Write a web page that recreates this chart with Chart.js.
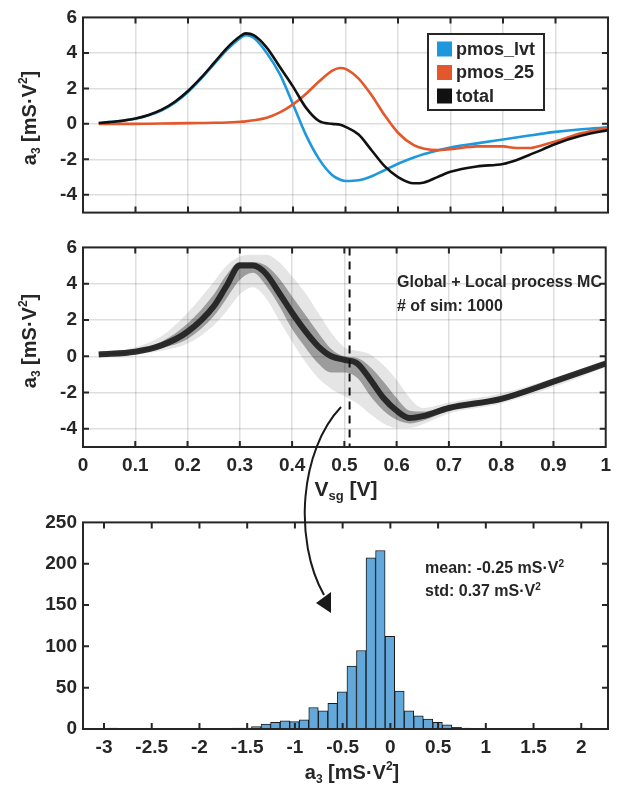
<!DOCTYPE html>
<html>
<head>
<meta charset="utf-8">
<script src="https://cdn.jsdelivr.net/npm/chart.js@4.4.1/dist/chart.umd.min.js"></script>
<style>
    html, body { margin: 0; padding: 0; background: #fff; }
    #wrap { position: relative; width: 618px; height: 790px; overflow: hidden; }
    canvas { position: absolute; left: 0; }
    #arrow { position: absolute; left: 0; top: 0; }
</style>
</head>
<body>
<div id="wrap">
    <canvas id="topChart" width="618" height="230" style="top:0px"></canvas>
    <canvas id="mcChart" width="618" height="275" style="top:230px"></canvas>
    <canvas id="histChart" width="618" height="285" style="top:505px"></canvas>
    <svg id="arrow" width="618" height="790">
        <path d="M341,407 C300,450 293,540 324,595" fill="none" stroke="#1a1a1a" stroke-width="2"/>
        <polygon points="316,603 331,592 331,613" fill="#1a1a1a"/>
    </svg>
</div>
<script>
// top panel: a3 vs Vsg
const VSG = [0.03, 0.05, 0.075, 0.1, 0.125, 0.15, 0.175, 0.2, 0.225, 0.25, 0.275, 0.3, 0.31, 0.325, 0.35, 0.375, 0.4, 0.425, 0.45, 0.475, 0.49, 0.5, 0.525, 0.55, 0.575, 0.6, 0.63, 0.65, 0.675, 0.7, 0.75, 0.8, 0.825, 0.85, 0.875, 0.9, 0.95, 1.0];
const PMOS_LVT = [0.05, 0.1, 0.17, 0.29, 0.48, 0.77, 1.2, 1.8, 2.55, 3.38, 4.2, 4.85, 5.0, 4.85, 4.0, 2.8, 1.1, -0.65, -2.0, -2.9, -3.15, -3.22, -3.18, -2.95, -2.6, -2.25, -1.9, -1.7, -1.5, -1.33, -1.1, -0.88, -0.77, -0.66, -0.55, -0.45, -0.3, -0.2];
const PMOS_25 = [0, 0, 0, 0, 0.01, 0.02, 0.03, 0.04, 0.05, 0.06, 0.08, 0.12, 0.14, 0.2, 0.35, 0.65, 1.1, 1.7, 2.4, 3.0, 3.15, 3.1, 2.55, 1.6, 0.47, -0.5, -1.2, -1.4, -1.48, -1.43, -1.27, -1.27, -1.36, -1.36, -1.2, -1.0, -0.52, -0.22];
const TOTAL = [0.05, 0.1, 0.18, 0.3, 0.5, 0.8, 1.25, 1.85, 2.6, 3.45, 4.3, 4.95, 5.1, 5.0, 4.3, 3.2, 2.1, 0.9, 0.15, 0.0, -0.05, -0.17, -0.6, -1.5, -2.4, -3.0, -3.35, -3.3, -3.0, -2.7, -2.4, -2.26, -2.05, -1.75, -1.45, -1.13, -0.66, -0.35];

// middle panel: Monte Carlo spread (core trace + inner/outer envelopes)
const MC_X = [0.03, 0.1, 0.15, 0.2, 0.25, 0.275, 0.3, 0.325, 0.35, 0.375, 0.4, 0.425, 0.45, 0.475, 0.5, 0.525, 0.55, 0.575, 0.6, 0.625, 0.65, 0.7, 0.8, 0.9, 1.0];
const MC_CORE = [0.1, 0.25, 0.6, 1.35, 2.75, 3.9, 5.0, 5.0, 4.55, 3.5, 2.4, 1.4, 0.55, 0.0, -0.2, -0.4, -1.3, -2.3, -3.0, -3.4, -3.3, -2.85, -2.35, -1.4, -0.4];
const MC_INNER_HI = [0.15, 0.35, 0.8, 1.8, 3.4, 4.5, 5.2, 5.2, 5.0, 4.3, 3.3, 2.3, 1.3, 0.4, 0.0, -0.1, -0.6, -1.4, -2.3, -3.0, -3.05, -2.7, -2.2, -1.3, -0.3];
const MC_INNER_LO = [0.05, 0.18, 0.45, 0.95, 2.2, 3.2, 4.2, 4.6, 3.9, 2.8, 1.5, 0.5, -0.4, -0.9, -0.9, -1.2, -2.2, -3.0, -3.5, -3.7, -3.55, -3.0, -2.5, -1.55, -0.5];
const MC_OUTER_HI = [0.2, 0.5, 1.1, 2.4, 4.1, 5.0, 5.5, 5.6, 5.6, 5.2, 4.4, 3.5, 2.4, 1.3, 0.5, 0.3, 0.1, -0.5, -1.3, -2.3, -2.85, -2.55, -2.05, -1.2, -0.2];
const MC_OUTER_LO = [0.0, 0.1, 0.3, 0.7, 1.7, 2.5, 3.4, 3.8, 3.2, 2.0, 0.8, -0.3, -1.2, -1.8, -2.2, -2.6, -3.2, -3.7, -3.95, -3.95, -3.75, -3.15, -2.6, -1.7, -0.6];
const MARKER_VSG = 0.51;

// bottom panel: histogram of a3 at the marked Vsg
const HIST_BINS = [-2.905, -1.605, -1.505, -1.405, -1.305, -1.205, -1.105, -1.005, -0.905, -0.805, -0.705, -0.605, -0.505, -0.405, -0.305, -0.205, -0.105, -0.005, 0.095, 0.195, 0.295, 0.395, 0.495, 0.595, 0.695, 0.795, 1.995];
const HIST_COUNTS = [1, 1, 1, 3, 6, 8, 10, 9, 11, 26, 22, 31, 45, 76, 95, 207, 216, 112, 46, 22, 16, 12, 8, 5, 2, 1, 1];

const VSG_TICKS = [0, 0.1, 0.2, 0.3, 0.4, 0.5, 0.6, 0.7, 0.8, 0.9, 1];
const A3_TICKS = [-4, -2, 0, 2, 4, 6];
const HIST_X_TICKS = [-3, -2.5, -2, -1.5, -1, -0.5, 0, 0.5, 1, 1.5, 2];
const HIST_Y_TICKS = [0, 50, 100, 150, 200, 250];

const FONT = '"Liberation Sans", Arial, sans-serif';
const INK = '#262626';
const BLUE = '#1e98dd';
const ORANGE = '#e4572a';
const BLACK = '#111111';

Chart.defaults.font.family = FONT;
Chart.defaults.font.weight = 'bold';
Chart.defaults.color = INK;

function toXY(xs, ys) {
    return xs.map((x, i) => ({ x: x, y: ys[i] }));
}

// text with _{sub} and ^{sup} parts
function drawRich(ctx, text, x, y, size, align, rotate) {
    const parts = [];
    const re = /([_^])\{([^}]*)\}/g;
    let last = 0, m;
    while ((m = re.exec(text)) !== null) {
        if (m.index > last) parts.push({ t: text.slice(last, m.index) });
        parts.push({ t: m[2], sub: m[1] === '_', sup: m[1] === '^' });
        last = re.lastIndex;
    }
    if (last < text.length) parts.push({ t: text.slice(last) });

    const small = Math.round(size * 0.6);
    ctx.save();
    ctx.translate(x, y);
    if (rotate) ctx.rotate(rotate);
    ctx.fillStyle = INK;
    ctx.textBaseline = 'middle';
    ctx.textAlign = 'left';
    const widths = parts.map(p => {
        ctx.font = `bold ${(p.sub || p.sup) ? small : size}px ${FONT}`;
        return ctx.measureText(p.t).width;
    });
    const total = widths.reduce((a, b) => a + b, 0);
    let cx = align === 'center' ? -total / 2 : 0;
    parts.forEach((p, i) => {
        ctx.font = `bold ${(p.sub || p.sup) ? small : size}px ${FONT}`;
        const dy = p.sub ? size * 0.32 : (p.sup ? -size * 0.3 : 0);
        ctx.fillText(p.t, cx, dy);
        cx += widths[i];
    });
    ctx.restore();
}

// MATLAB-like box, inward ticks, texts and legend
const matlabBox = {
    id: 'matlabBox',
    afterDraw(chart, args, opts) {
        const ctx = chart.ctx;
        const a = chart.chartArea;
        const xs = chart.scales.x, ys = chart.scales.y;
        const tl = 6;
        ctx.save();
        ctx.strokeStyle = INK;
        ctx.lineWidth = 2;
        ctx.beginPath();
        xs.ticks.forEach(t => {
            const px = xs.getPixelForValue(t.value);
            if (px <= a.left + 1 || px >= a.right - 1) return;
            ctx.moveTo(px, a.bottom); ctx.lineTo(px, a.bottom - tl);
            ctx.moveTo(px, a.top); ctx.lineTo(px, a.top + tl);
        });
        ys.ticks.forEach(t => {
            const py = ys.getPixelForValue(t.value);
            if (py <= a.top + 1 || py >= a.bottom - 1) return;
            ctx.moveTo(a.left, py); ctx.lineTo(a.left + tl, py);
            ctx.moveTo(a.right, py); ctx.lineTo(a.right - tl, py);
        });
        ctx.stroke();
        ctx.strokeRect(a.left, a.top, a.right - a.left, a.bottom - a.top);
        ctx.restore();

        (opts.texts || []).forEach(t => {
            drawRich(ctx, t.text, t.x, t.y, t.size, t.align, t.rotate);
        });

        if (opts.legend) {
            const L = opts.legend;
            ctx.save();
            ctx.fillStyle = '#fff';
            ctx.fillRect(L.x, L.y, L.w, L.h);
            ctx.strokeStyle = INK;
            ctx.lineWidth = 2;
            ctx.strokeRect(L.x, L.y, L.w, L.h);
            ctx.font = `bold ${L.size}px ${FONT}`;
            ctx.textBaseline = 'middle';
            ctx.textAlign = 'left';
            chart.data.datasets.forEach((ds, i) => {
                const cy = L.y + L.first + i * L.row;
                ctx.fillStyle = ds.borderColor;
                ctx.fillRect(L.x + 9, cy - 7.5, 15, 15);
                ctx.fillStyle = INK;
                ctx.fillText(ds.label, L.x + 28, cy + 1);
            });
            ctx.restore();
        }
    }
};

const GRID = { color: 'rgba(0,0,0,0.13)', lineWidth: 1.5, drawTicks: false };
const TICK_FONT = { size: 19, weight: 'bold' };

function xAxis(ticks, min, max, showLabels, height, grid) {
    return {
        type: 'linear', min: min, max: max, offset: false,
        afterBuildTicks: s => { s.ticks = ticks.map(v => ({ value: v })); },
        afterFit: s => { s.height = height; },
        grid: grid ? GRID : { display: false, drawTicks: false },
        border: { display: false },
        ticks: { display: showLabels, font: TICK_FONT, padding: 7, maxRotation: 0, autoSkip: false, callback: v => String(v) }
    };
}

function yAxis(ticks, min, max, grid) {
    return {
        type: 'linear', min: min, max: max,
        afterBuildTicks: s => { s.ticks = ticks.map(v => ({ value: v })); },
        afterFit: s => { s.width = 83; },
        grid: grid ? GRID : { display: false, drawTicks: false },
        border: { display: false },
        ticks: { font: TICK_FONT, padding: 6, callback: v => String(v) }
    };
}

const BASE = {
    responsive: false,
    animation: false,
    devicePixelRatio: 1,
    events: [],
    plugins: { legend: { display: false }, tooltip: { enabled: false } }
};

function lineSet(label, ys, color, order) {
    return {
        label: label, data: toXY(VSG, ys), borderColor: color, backgroundColor: color,
        borderWidth: 2.6, pointRadius: 0, cubicInterpolationMode: 'monotone', order: order
    };
}

new Chart(document.getElementById('topChart'), {
    type: 'line',
    data: {
        datasets: [
            lineSet('pmos_lvt', PMOS_LVT, BLUE, 3),
            lineSet('pmos_25', PMOS_25, ORANGE, 2),
            lineSet('total', TOTAL, BLACK, 1)
        ]
    },
    plugins: [matlabBox],
    options: {
        ...BASE,
        layout: { padding: { left: 0, right: 10, top: 13, bottom: 0 } },
        scales: {
            x: xAxis(VSG_TICKS, 0, 1, false, 7, true),
            y: yAxis(A3_TICKS, -5, 6, true)
        },
        plugins: {
            ...BASE.plugins,
            matlabBox: {
                texts: [{ text: 'a_{3} [mS·V^{2}]', x: 30, y: 118, size: 20, align: 'center', rotate: -Math.PI / 2 }],
                legend: { x: 428, y: 34, w: 116, h: 76, size: 18, first: 15, row: 23.5 }
            }
        }
    }
});

function band(ys, fill, color, order) {
    return {
        data: toXY(MC_X, ys), borderWidth: 0, pointRadius: 0, fill: fill,
        backgroundColor: color, cubicInterpolationMode: 'monotone', order: order
    };
}

new Chart(document.getElementById('mcChart'), {
    type: 'line',
    data: {
        datasets: [
            band(MC_OUTER_HI, '+1', 'rgba(0,0,0,0.10)', 6),
            band(MC_OUTER_LO, false, 'rgba(0,0,0,0)', 6),
            band(MC_INNER_HI, '+1', 'rgba(0,0,0,0.32)', 5),
            band(MC_INNER_LO, false, 'rgba(0,0,0,0)', 5),
            {
                data: toXY(MC_X, MC_CORE), borderColor: 'rgba(30,30,30,0.92)', borderWidth: 6,
                pointRadius: 0, cubicInterpolationMode: 'monotone', order: 2
            },
            {
                data: [{ x: MARKER_VSG, y: 6 }, { x: MARKER_VSG, y: -5 }], borderColor: BLACK,
                borderWidth: 2, borderDash: [8, 6], pointRadius: 0, order: 1
            }
        ]
    },
    plugins: [matlabBox],
    options: {
        ...BASE,
        layout: { padding: { left: 0, right: 10, top: 5, bottom: 0 } },
        scales: {
            x: xAxis(VSG_TICKS, 0, 1, true, 58, true),
            y: yAxis(A3_TICKS, -5, 6, true)
        },
        plugins: {
            ...BASE.plugins,
            matlabBox: {
                texts: [
                    { text: 'a_{3} [mS·V^{2}]', x: 30, y: 111, size: 20, align: 'center', rotate: -Math.PI / 2 },
                    { text: 'V_{sg} [V]', x: 346, y: 260, size: 21, align: 'center' },
                    { text: 'Global + Local process MC', x: 397, y: 53, size: 16, align: 'left' },
                    { text: '# of sim: 1000', x: 397, y: 77, size: 16, align: 'left' }
                ]
            }
        }
    }
});

new Chart(document.getElementById('histChart'), {
    type: 'bar',
    data: {
        datasets: [{
            data: toXY(HIST_BINS, HIST_COUNTS),
            backgroundColor: '#62a8da', borderColor: '#1a1a1a', borderWidth: 1,
            barPercentage: 1, categoryPercentage: 1
        }]
    },
    plugins: [matlabBox],
    options: {
        ...BASE,
        layout: { padding: { left: 0, right: 10, top: 17, bottom: 0 } },
        scales: {
            x: xAxis(HIST_X_TICKS, -3.22, 2.28, true, 61, false),
            y: yAxis(HIST_Y_TICKS, 0, 250, false)
        },
        plugins: {
            ...BASE.plugins,
            matlabBox: {
                texts: [
                    { text: 'a_{3} [mS·V^{2}]', x: 352, y: 268, size: 20, align: 'center' },
                    { text: 'mean: -0.25 mS·V^{2}', x: 425, y: 64, size: 16, align: 'left' },
                    { text: 'std: 0.37 mS·V^{2}', x: 425, y: 87, size: 16, align: 'left' }
                ]
            }
        }
    }
});
</script>
</body>
</html>
